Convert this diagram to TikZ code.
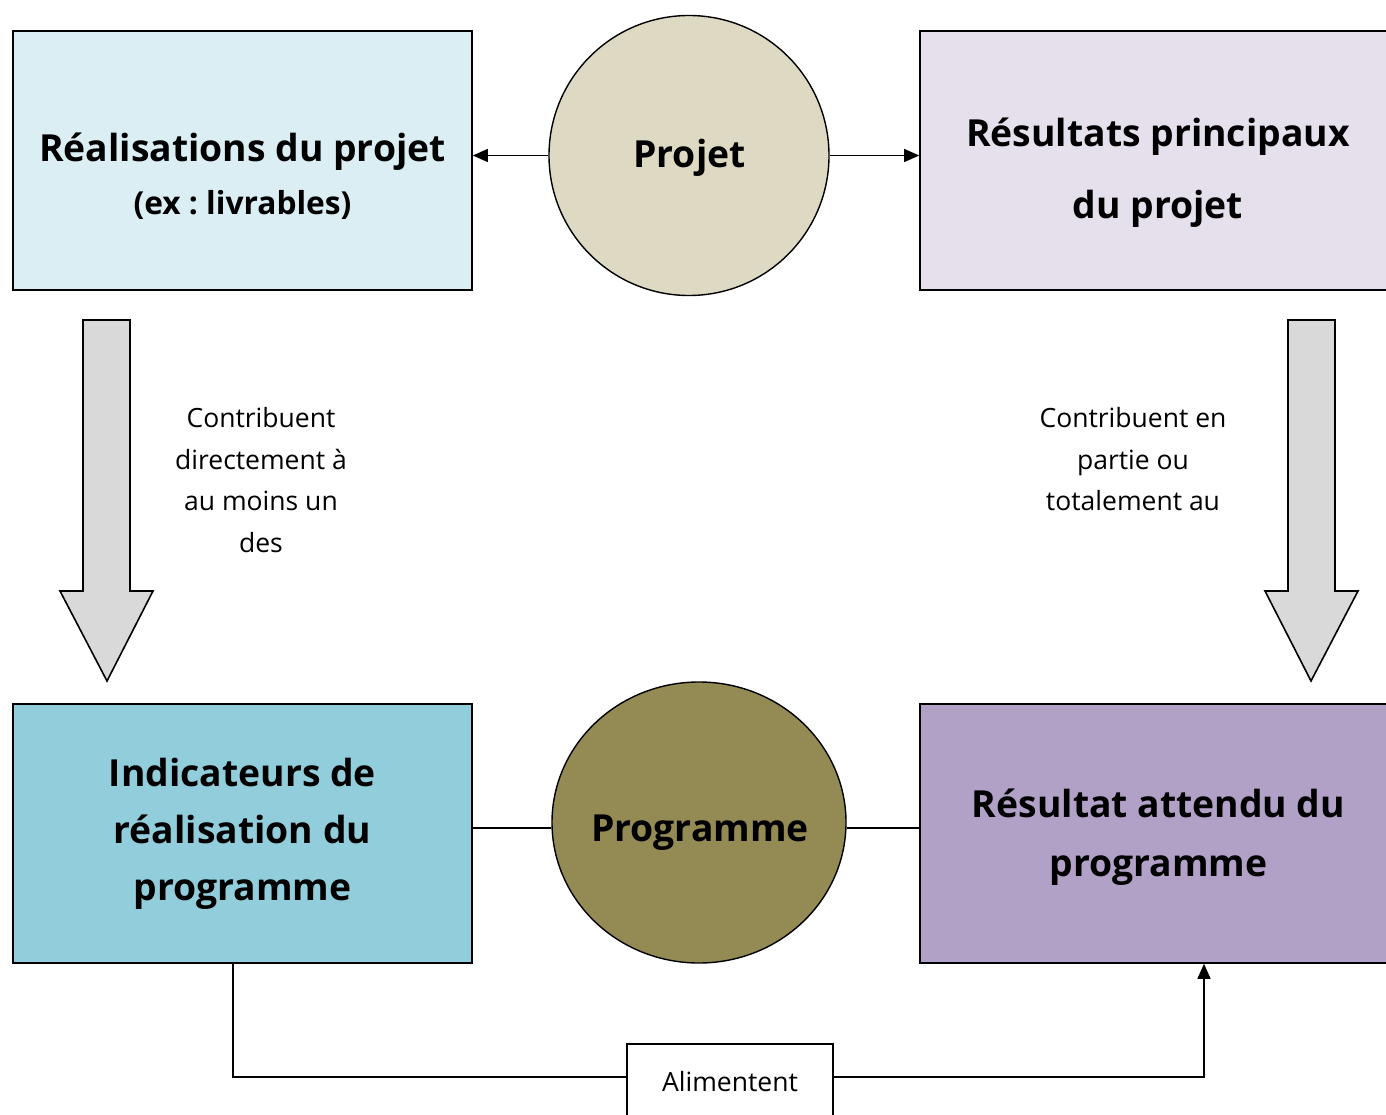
\documentclass[tikz,border=0pt]{standalone}
\usepackage{fontspec}
\setmainfont{Open Sans}
\frenchspacing
\usetikzlibrary{arrows.meta,shapes.geometric}
\definecolor{boxA}{HTML}{DAEEF3}
\definecolor{boxB}{HTML}{E5E0EC}
\definecolor{boxC}{HTML}{92CDDC}
\definecolor{boxD}{HTML}{B2A1C7}
\definecolor{circA}{HTML}{DDD9C3}
\definecolor{circB}{HTML}{948A54}
\definecolor{arrowgray}{HTML}{D9D9D9}
\tikzset{
  box/.style={draw=black, line width=1.6pt, rectangle, inner sep=0pt},
  roundnode/.style={draw=black, line width=1.4pt, inner sep=0pt},
  conn/.style={draw=black, line width=1.4pt},
  tip/.style={-{Triangle[length=15pt,width=13pt]}},
  bigtxt/.style={font=\fontsize{37.3}{41}\selectfont\bfseries, anchor=base, inner sep=0pt},
  midtxt/.style={font=\fontsize{31.7}{35}\selectfont\bfseries, anchor=base, inner sep=0pt},
  smalltxt/.style={font=\fontsize{26.5}{30}\selectfont, anchor=base, inner sep=0pt},
  blockarrow/.style={draw=black, line width=1.6pt, fill=arrowgray, line join=miter},
}
\begin{document}
\begin{tikzpicture}[x=1pt,y=-1pt]
\useasboundingbox (0,0) rectangle (1386,1115);
\clip (0,0) rectangle (1386,1115);

% boxes
\node[box, fill=boxA, minimum width=459pt, minimum height=259pt] (real) at (242.5,160.5) {};
\node[box, fill=boxB, minimum width=480pt, minimum height=259pt] (resp) at (1160,160.5) {};
\node[box, fill=boxC, minimum width=459pt, minimum height=259pt] (indic) at (242.5,833.5) {};
\node[box, fill=boxD, minimum width=480pt, minimum height=259pt] (resa) at (1160,833.5) {};

% circles
\node[roundnode, circle, fill=circA, minimum size=280pt] (projet) at (689,155.5) {};
\node[roundnode, ellipse, fill=circB, minimum width=294pt, minimum height=281pt] (prog) at (699,822.5) {};

% texts
\node[bigtxt] (t1a) at (242.5,162) {Réalisations du projet};
\node[midtxt] (t1b) at (242.5,215) {(ex : livrables)};
\node[bigtxt] (t2a) at (1158,147) {Résultats principaux};
\node[bigtxt] (t2b) at (1158,219) {du projet};
\node[bigtxt] (tp) at (689.5,168) {Projet};
\node[bigtxt] (t3a) at (242.5,786) {Indicateurs de};
\node[bigtxt] (t3b) at (242.5,843) {réalisation du};
\node[bigtxt] (t3c) at (242.5,900) {programme};
\node[bigtxt] (tg) at (700,841) {Programme};
\node[bigtxt] (t4a) at (1158.5,817) {Résultat attendu du};
\node[bigtxt] (t4b) at (1158.5,876) {programme};

\node[smalltxt] (l1) at (261,427) {Contribuent};
\node[smalltxt] (l2) at (261,469) {directement à};
\node[smalltxt] (l3) at (261,510.5) {au moins un};
\node[smalltxt] (l4) at (261,552) {des};
\node[smalltxt] (r1) at (1133,427) {Contribuent en};
\node[smalltxt] (r2) at (1133,469) {partie ou};
\node[smalltxt] (r3) at (1133,510.5) {totalement au};

% top connectors
\draw[conn, tip] (projet.west) -- (real.east |- projet.west);
\draw[conn, tip] (projet.east) -- (resp.west |- projet.east);

% middle connectors
\coordinate (lineY) at (0,828);
\draw[conn] (indic.east |- lineY) -- (prog.west |- lineY);
\draw[conn] (prog.east |- lineY) -- (resa.west |- lineY);

% block arrows
\draw[blockarrow] (83,320) -- (130,320) -- (130,591) -- (153,591) -- (107,681) -- (60,591) -- (83,591) -- cycle;
\draw[blockarrow] (1288,320) -- (1335,320) -- (1335,591) -- (1358,591) -- (1311,681) -- (1265,591) -- (1288,591) -- cycle;

% bottom
\node[draw=black, line width=1.4pt, fill=white, minimum width=206pt, minimum height=100pt, inner sep=0pt] (alim) at (730,1094) {};
\node[smalltxt] (talim) at (730,1091) {Alimentent};
\coordinate (busY) at (0,1077);
\draw[conn] ([xshift=-9.5pt]indic.south) |- (alim.west |- busY);
\draw[conn, tip] (alim.east |- busY) -| ([xshift=44pt]resa.south);
\end{tikzpicture}
\end{document}
